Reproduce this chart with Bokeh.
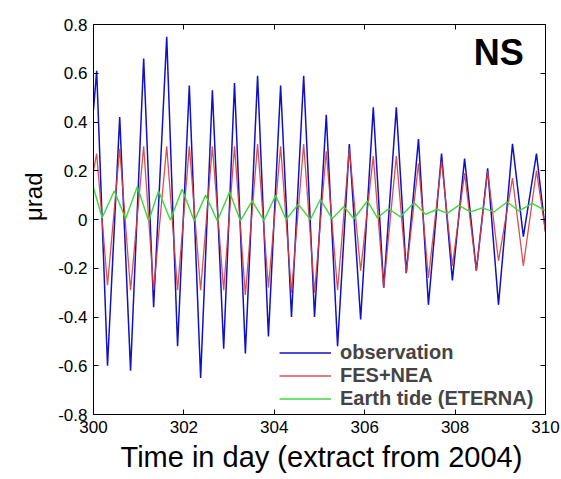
from bokeh.plotting import figure
from bokeh.models import LinearAxis, FixedTicker, Label, Legend, LegendItem, Range1d, Title
from bokeh.embed import file_html
from bokeh.resources import INLINE

# ---- data (extrema of each curve) ----
obs_t = [300.00, 300.07, 300.31, 300.58, 300.82, 301.11, 301.33, 301.62, 301.86, 302.12,
         302.37, 302.63, 302.88, 303.12, 303.36, 303.63, 303.87, 304.14, 304.38, 304.65,
         304.89, 305.15, 305.40, 305.66, 305.91, 306.19, 306.42, 306.70, 306.92, 307.19,
         307.41, 307.70, 307.94, 308.21, 308.47, 308.72, 308.96, 309.27, 309.51, 309.80, 310.00]
obs_v = [0.45, 0.61, -0.60, 0.42, -0.62, 0.66, -0.36, 0.75, -0.52, 0.55,
         -0.65, 0.53, -0.53, 0.56, -0.55, 0.59, -0.48, 0.55, -0.40, 0.59,
         -0.40, 0.43, -0.52, 0.31, -0.41, 0.46, -0.28, 0.46, -0.22, 0.33,
         -0.35, 0.27, -0.25, 0.25, -0.21, 0.21, -0.35, 0.31, -0.07, 0.27, -0.05]

fes_t = obs_t
fes_v = [0.20, 0.27, -0.27, 0.29, -0.29, 0.30, -0.29, 0.30, -0.29, 0.30,
         -0.29, 0.30, -0.29, 0.30, -0.31, 0.31, -0.28, 0.30, -0.30, 0.31,
         -0.30, 0.28, -0.29, 0.29, -0.21, 0.26, -0.28, 0.26, -0.22, 0.23,
         -0.24, 0.24, -0.19, 0.19, -0.21, 0.20, -0.17, 0.17, -0.19, 0.20, -0.05]

eth_t = [300.00, 300.19, 300.46, 300.71, 300.97, 301.22, 301.44, 301.70, 301.96, 302.23,
         302.48, 302.74, 303.01, 303.25, 303.51, 303.77, 304.03, 304.26, 304.53, 304.80,
         305.02, 305.28, 305.54, 305.76, 306.06, 306.28, 306.53, 306.79, 307.09, 307.35,
         307.60, 307.83, 308.08, 308.34, 308.60, 308.86, 309.15, 309.41, 309.71, 310.00]
eth_v = [0.130, 0.007, 0.117, 0.003, 0.135, -0.006, 0.117, -0.002, 0.124, -0.006,
         0.100, -0.006, 0.113, -0.006, 0.076, -0.004, 0.099, 0.000, 0.062, 0.000,
         0.083, 0.003, 0.053, 0.003, 0.076, 0.007, 0.044, 0.011, 0.069, 0.021,
         0.042, 0.025, 0.058, 0.031, 0.048, 0.031, 0.072, 0.035, 0.066, 0.035]

x_ticks = [300, 302, 304, 306, 308, 310]
x_tick_labels = ["300", "302", "304", "306", "308", "310"]
y_ticks = [-0.8, -0.6, -0.4, -0.2, 0, 0.2, 0.4, 0.6, 0.8]
y_tick_labels = ["-0.8", "-0.6", "-0.4", "-0.2", "0", "0.2", "0.4", "0.6", "0.8"]

series_names = ["observation", "FES+NEA", "Earth tide (ETERNA)"]

FONT = "Liberation Sans"

p = figure(width=561, height=479,
           x_range=Range1d(300, 310), y_range=Range1d(-0.8, 0.8),
           output_backend="svg", toolbar_location=None,
           min_border_left=93, min_border_right=16,
           min_border_top=24, min_border_bottom=65)
p.grid.visible = False
p.outline_line_color = None
p.background_fill_color = "white"
p.border_fill_color = "white"

def style_axis(ax, ticks, labels, show_labels=True):
    ax.ticker = FixedTicker(ticks=ticks)
    ax.axis_line_color = "black"
    ax.axis_line_width = 1
    ax.major_tick_line_color = "black"
    ax.major_tick_in = 5
    ax.major_tick_out = 0
    ax.minor_tick_in = 0
    ax.minor_tick_out = 0
    ax.minor_tick_line_color = None
    ax.major_label_text_font = FONT
    ax.major_label_text_color = "black"
    if show_labels:
        ax.major_label_overrides = {t: l for t, l in zip(ticks, labels)}
        ax.major_label_text_font_size = "17px"
        ax.major_label_standoff = 6
    else:
        ax.major_label_overrides = {t: "" for t in ticks}
        ax.major_label_text_font_size = "1px"
        ax.major_label_standoff = 0

style_axis(p.xaxis[0], x_ticks, x_tick_labels)
style_axis(p.yaxis[0], y_ticks, y_tick_labels)

top_ax = LinearAxis()
style_axis(top_ax, x_ticks, x_tick_labels, show_labels=False)
p.add_layout(top_ax, "above")
right_ax = LinearAxis()
style_axis(right_ax, y_ticks, y_tick_labels, show_labels=False)
p.add_layout(right_ax, "right")

r_obs = p.line(obs_t, obs_v, line_color="#1010c4", line_width=1.5)
r_fes = p.line(fes_t, fes_v, line_color="#d83c3c", line_width=1.3, line_alpha=0.9)
r_eth = p.line(eth_t, eth_v, line_color="#3cd83c", line_width=1.4)

legend = Legend(items=[LegendItem(label=series_names[0], renderers=[r_obs]),
                       LegendItem(label=series_names[1], renderers=[r_fes]),
                       LegendItem(label=series_names[2], renderers=[r_eth])],
                location=(186, 4))
legend.padding = 0
legend.margin = 0
legend.spacing = 0
legend.glyph_width = 52
legend.glyph_height = 21
legend.label_height = 21
legend.label_standoff = 9
legend.label_text_font = FONT
legend.label_text_font_style = "bold"
legend.label_text_font_size = "20px"
legend.border_line_color = None
legend.background_fill_alpha = 0
p.add_layout(legend)

p.add_layout(Label(x=308.41, y=0.687, text="NS", text_font=FONT,
                   text_font_style="bold", text_font_size="36px",
                   text_align="left", text_baseline="alphabetic", text_color="black"))

ylab = Title(text="μrad", align="right", offset=148, standoff=18,
             text_font=FONT, text_font_size="24px", text_font_style="normal",
             text_color="black")
p.add_layout(ylab, "left")

xlab = Title(text="Time in day (extract from 2004)", align="left", offset=27, standoff=7,
             text_font=FONT, text_font_size="29px", text_font_style="normal",
             text_color="black")
p.add_layout(xlab, "below")

open("out.html", "w").write(file_html(p, INLINE))
